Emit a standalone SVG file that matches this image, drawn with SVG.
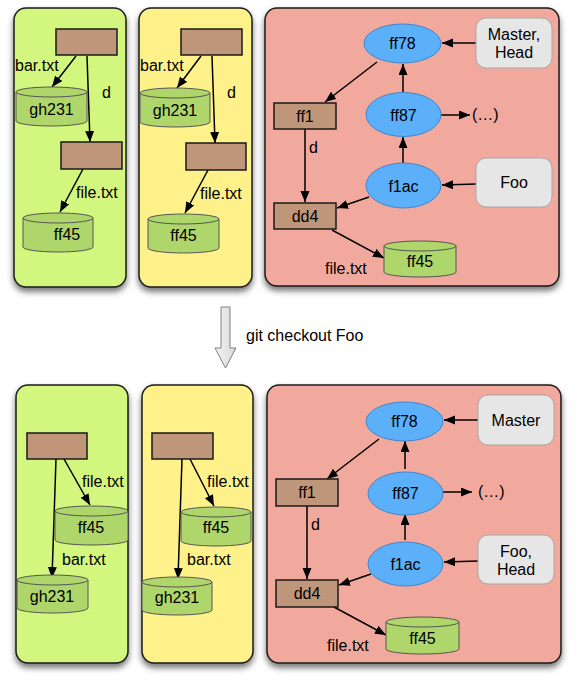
<svg xmlns="http://www.w3.org/2000/svg" width="578" height="683" viewBox="0 0 578 683">
<defs>
<filter id="sh" x="-10%" y="-10%" width="120%" height="120%">
<feDropShadow dx="0" dy="4" stdDeviation="3" flood-color="#000" flood-opacity="0.55"/>
</filter>
<marker id="ah" markerUnits="userSpaceOnUse" markerWidth="12" markerHeight="10" refX="11" refY="4.5" orient="auto">
<path d="M0,0 L11,4.5 L0,9 z" fill="#000"/>
</marker>
<linearGradient id="bg" x1="0" y1="0" x2="1" y2="0">
<stop offset="0" stop-color="#f4f4f4"/>
<stop offset="1" stop-color="#d8d8d8"/>
</linearGradient>
</defs>
<style>
text{font-family:"Liberation Sans",Arial,sans-serif;font-size:16px;fill:#000}
.c{text-anchor:middle}
.pg{fill:#d3f67f;stroke:#1a1a1a;stroke-width:1.5}
.py{fill:#fef18a;stroke:#1a1a1a;stroke-width:1.5}
.pr{fill:#f2a99d;stroke:#1a1a1a;stroke-width:1.5}
.tree{fill:#c0967a;stroke:#1a1a1a;stroke-width:1.5}
.cyl{fill:#afd66a;stroke:#555;stroke-width:1}
.cm{fill:#5cb0fa;stroke:#3d86cc;stroke-width:1}
.ref{fill:#e6e6e6;stroke:#a8a8a8;stroke-width:1}
.e{stroke:#000;stroke-width:1.5;fill:none;marker-end:url(#ah)}
</style>

<!-- panels -->
<g id="panels-top">
<rect class="pg" x="14" y="8" width="112" height="279" rx="12" filter="url(#sh)"/>
<rect class="py" x="139" y="8" width="113" height="279" rx="12" filter="url(#sh)"/>
<rect class="pr" x="265" y="8" width="294" height="278" rx="12" filter="url(#sh)"/>
</g>
<g id="panels-bottom">
<rect class="pg" x="16" y="385" width="112" height="278" rx="12" filter="url(#sh)"/>
<rect class="py" x="142" y="385" width="111" height="278" rx="12" filter="url(#sh)"/>
<rect class="pr" x="267" y="385" width="294" height="278" rx="12" filter="url(#sh)"/>
</g>

<!-- connectors -->
<g id="connectors">
<!-- top panel 1 -->
<line class="e" x1="76" y1="56" x2="52" y2="87"/>
<line class="e" x1="87" y1="56" x2="90" y2="142"/>
<line class="e" x1="83" y1="169" x2="60" y2="212"/>
<!-- top panel 2 -->
<line class="e" x1="201" y1="56" x2="177" y2="88"/>
<line class="e" x1="212" y1="56" x2="215" y2="143"/>
<line class="e" x1="208" y1="170" x2="185" y2="213"/>
<!-- top panel 3 -->
<line class="e" x1="476" y1="43" x2="442" y2="43"/>
<line class="e" x1="377" y1="62" x2="325" y2="102"/>
<line class="e" x1="403" y1="92" x2="403" y2="64"/>
<line class="e" x1="441" y1="115" x2="470" y2="115"/>
<line class="e" x1="403" y1="163" x2="403" y2="137"/>
<line class="e" x1="476" y1="184" x2="442" y2="185"/>
<line class="e" x1="369" y1="197" x2="337" y2="208"/>
<line class="e" x1="305" y1="129" x2="305" y2="202"/>
<line class="e" x1="332" y1="230" x2="384" y2="258"/>
<!-- bottom panel 1 -->
<line class="e" x1="64" y1="459" x2="90" y2="505"/>
<line class="e" x1="56" y1="459" x2="52" y2="578"/>
<!-- bottom panel 2 -->
<line class="e" x1="190" y1="459" x2="214" y2="506"/>
<line class="e" x1="182" y1="459" x2="178" y2="579"/>
<!-- bottom panel 3 -->
<g transform="translate(2,377)">
<line class="e" x1="476" y1="43" x2="442" y2="43"/>
<line class="e" x1="377" y1="62" x2="325" y2="102"/>
<line class="e" x1="403" y1="92" x2="403" y2="64"/>
<line class="e" x1="441" y1="115" x2="470" y2="115"/>
<line class="e" x1="403" y1="163" x2="403" y2="137"/>
<line class="e" x1="476" y1="184" x2="442" y2="185"/>
<line class="e" x1="369" y1="197" x2="337" y2="208"/>
<line class="e" x1="305" y1="129" x2="305" y2="202"/>
<line class="e" x1="332" y1="230" x2="384" y2="258"/>
</g>
<!-- edge labels -->
<text x="15" y="71">bar.txt</text>
<text x="102" y="98">d</text>
<text x="76" y="198">file.txt</text>
<text x="140" y="71">bar.txt</text>
<text x="227" y="98">d</text>
<text x="200" y="199">file.txt</text>
<text x="309" y="153">d</text>
<text x="325" y="274">file.txt</text>
<text x="82" y="487">file.txt</text>
<text x="62" y="565">bar.txt</text>
<text x="207" y="487">file.txt</text>
<text x="187" y="565">bar.txt</text>
<text x="311" y="530">d</text>
<text x="327" y="651">file.txt</text>
</g>

<!-- top panel 1 nodes -->
<g id="t1-root"><rect class="tree" x="56" y="29" width="61" height="26"/></g>
<g id="t1-gh231">
<path class="cyl" d="M16,92 A35.5,5 0 0 1 87,92 V121 A35.5,5 0 0 1 16,121 Z"/>
<path class="cyl" fill="none" d="M16,92 A35.5,5 0 0 0 87,92"/>
<text class="c" x="51.5" y="115">gh231</text>
</g>
<g id="t1-d"><rect class="tree" x="61" y="142" width="61" height="27"/></g>
<g id="t1-ff45">
<path class="cyl" d="M23,218 A35,5 0 0 1 93,218 V247 A35,5 0 0 1 23,247 Z"/>
<path class="cyl" fill="none" d="M23,218 A35,5 0 0 0 93,218"/>
<text class="c" x="67" y="240">ff45</text>
</g>

<!-- top panel 2 nodes -->
<g id="t2-root"><rect class="tree" x="181" y="29" width="61" height="26"/></g>
<g id="t2-gh231">
<path class="cyl" d="M140,93 A35,5 0 0 1 210,93 V122 A35,5 0 0 1 140,122 Z"/>
<path class="cyl" fill="none" d="M140,93 A35,5 0 0 0 210,93"/>
<text class="c" x="175" y="116">gh231</text>
</g>
<g id="t2-d"><rect class="tree" x="186" y="143" width="60" height="27"/></g>
<g id="t2-ff45">
<path class="cyl" d="M148,219 A35.5,5 0 0 1 219,219 V248 A35.5,5 0 0 1 148,248 Z"/>
<path class="cyl" fill="none" d="M148,219 A35.5,5 0 0 0 219,219"/>
<text class="c" x="183.5" y="241">ff45</text>
</g>

<!-- top panel 3 nodes -->
<g id="t3-ff78"><ellipse class="cm" cx="402.5" cy="43.5" rx="38.5" ry="19.5"/><text class="c" x="402.5" y="49">ff78</text></g>
<g id="t3-ff87"><ellipse class="cm" cx="403.5" cy="114.5" rx="37.5" ry="22"/><text class="c" x="403.5" y="121">ff87</text></g>
<g id="t3-f1ac"><ellipse class="cm" cx="403.5" cy="185.5" rx="37.5" ry="22.5"/><text class="c" x="403.5" y="192">f1ac</text></g>
<g id="t3-master"><rect class="ref" x="476" y="18" width="76" height="50" rx="10"/><text class="c" x="514" y="40">Master,</text><text class="c" x="514" y="58">Head</text></g>
<g id="t3-foo"><rect class="ref" x="476" y="158" width="76" height="49" rx="10"/><text class="c" x="514" y="188">Foo</text></g>
<g id="t3-ff1"><rect class="tree" x="274" y="103" width="62" height="26"/><text class="c" x="305" y="122">ff1</text></g>
<g id="t3-dd4"><rect class="tree" x="274" y="203" width="62" height="26"/><text class="c" x="305" y="222">dd4</text></g>
<g id="t3-ff45">
<path class="cyl" d="M384,246 A36,5 0 0 1 456,246 V272 A36,5 0 0 1 384,272 Z"/>
<path class="cyl" fill="none" d="M384,246 A36,5 0 0 0 456,246"/>
<text class="c" x="420" y="267">ff45</text>
</g>
<g id="t3-more"><text x="472" y="120">(…)</text></g>

<!-- transition arrow -->
<g id="checkout">
<path d="M221,307 H230 V348 H236 L225.5,368 L215,348 H221 Z" fill="url(#bg)" stroke="#808080" stroke-width="1"/>
<text x="246" y="341">git checkout Foo</text>
</g>

<!-- bottom panel 1 nodes -->
<g id="b1-root"><rect class="tree" x="27" y="433" width="60" height="26"/></g>
<g id="b1-ff45">
<path class="cyl" d="M55,511 A36.5,5 0 0 1 128,511 V540 A36.5,5 0 0 1 55,540 Z"/>
<path class="cyl" fill="none" d="M55,511 A36.5,5 0 0 0 128,511"/>
<text class="c" x="91" y="533">ff45</text>
</g>
<g id="b1-gh231">
<path class="cyl" d="M17,580 A35.5,5 0 0 1 88,580 V608 A35.5,5 0 0 1 17,608 Z"/>
<path class="cyl" fill="none" d="M17,580 A35.5,5 0 0 0 88,580"/>
<text class="c" x="52" y="602">gh231</text>
</g>

<!-- bottom panel 2 nodes -->
<g id="b2-root"><rect class="tree" x="152" y="433" width="61" height="26"/></g>
<g id="b2-ff45">
<path class="cyl" d="M181,512 A35,5 0 0 1 251,512 V541 A35,5 0 0 1 181,541 Z"/>
<path class="cyl" fill="none" d="M181,512 A35,5 0 0 0 251,512"/>
<text class="c" x="216" y="533">ff45</text>
</g>
<g id="b2-gh231">
<path class="cyl" d="M142,582 A35,5 0 0 1 212,582 V610 A35,5 0 0 1 142,610 Z"/>
<path class="cyl" fill="none" d="M142,582 A35,5 0 0 0 212,582"/>
<text class="c" x="177" y="603">gh231</text>
</g>

<!-- bottom panel 3 nodes -->
<g transform="translate(2,377)">
<g id="b3-ff78"><ellipse class="cm" cx="402.5" cy="44.5" rx="38.5" ry="19.5"/><text class="c" x="402.5" y="50">ff78</text></g>
<g id="b3-ff87"><ellipse class="cm" cx="403.5" cy="116.5" rx="37.5" ry="21.5"/><text class="c" x="403.5" y="122">ff87</text></g>
<g id="b3-f1ac"><ellipse class="cm" cx="403.5" cy="187" rx="37.5" ry="22"/><text class="c" x="403.5" y="193">f1ac</text></g>
<g id="b3-master"><rect class="ref" x="476" y="18" width="76" height="50" rx="10"/><text class="c" x="514" y="49">Master</text></g>
<g id="b3-foo"><rect class="ref" x="476" y="158" width="76" height="49" rx="10"/><text class="c" x="514" y="180">Foo,</text><text class="c" x="514" y="198">Head</text></g>
<g id="b3-ff1"><rect class="tree" x="274" y="102" width="62" height="27"/><text class="c" x="305" y="121">ff1</text></g>
<g id="b3-dd4"><rect class="tree" x="274" y="203" width="62" height="27"/><text class="c" x="305" y="222">dd4</text></g>
<g id="b3-ff45">
<path class="cyl" d="M384,245 A36.5,5 0 0 1 457,245 V272 A36.5,5 0 0 1 384,272 Z"/>
<path class="cyl" fill="none" d="M384,245 A36.5,5 0 0 0 457,245"/>
<text class="c" x="420.5" y="267">ff45</text>
</g>
<g id="b3-more"><text x="476" y="120">(…)</text></g>
</g>
</svg>
